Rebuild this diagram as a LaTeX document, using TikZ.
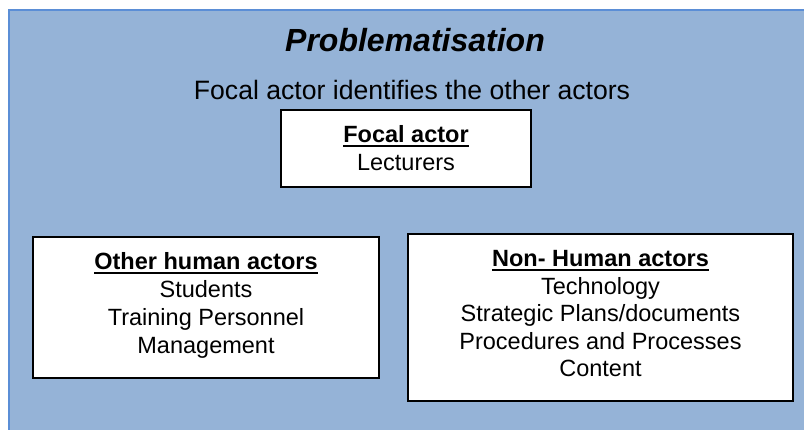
\documentclass[tikz,border=0pt]{standalone}
\usepackage{fontspec}
\setmainfont{Liberation Sans}
% bold heading with a heavy underline
\newcommand{\ulhead}[1]{\leavevmode\setbox0\hbox{\bfseries #1}\rlap{\rule[-4.5pt]{\wd0}{2pt}}\box0}
% invisible struts that fix the first baseline and the last depth
\newcommand{\topstrut}{\rule{0pt}{20pt}}
\newcommand{\botstrut}[1]{\rule[-#1]{0pt}{#1}}
\definecolor{panelfill}{HTML}{95B3D7}
\definecolor{paneledge}{HTML}{5B8ED6}
\tikzset{
  actorbox/.style={draw=black, line width=1.6pt, fill=white, align=center,
    inner sep=0pt, font=\fontsize{23.5}{27.5}\selectfont},
}
\begin{document}
\begin{tikzpicture}[x=1pt, y=-1pt]
  \useasboundingbox (0,0) rectangle (804,430);
  \begin{scope}
    \clip (0,0) rectangle (804,430);
    \draw[fill=panelfill, draw=paneledge, line width=2.5pt] (9,10) rectangle (830,460);
  \end{scope}
  \node[anchor=base, font=\fontsize{32}{38}\selectfont\bfseries\itshape] (title) at (415,52) {Problematisation};
  \node[anchor=base, font=\fontsize{26.6}{30}\selectfont] (sub) at (412,100) {Focal actor identifies the other actors};
  \node[actorbox, minimum width=250pt, minimum height=77pt] (focal) at (406,148.5)
    {\topstrut\ulhead{Focal actor}\\Lecturers\botstrut{3.5pt}};
  \node[actorbox, minimum width=346pt, minimum height=141pt,
    font=\fontsize{23.5}{27.8}\selectfont] (human) at (206,307.5)
    {\topstrut\ulhead{Other human actors}\\Students\\Training Personnel\\Management\botstrut{12pt}};
  \node[actorbox, minimum width=385pt, minimum height=167pt] (nonhuman) at (600.5,317.5)
    {\topstrut\ulhead{Non- Human actors}\\Technology\hspace*{24pt}\\Strategic Plans/documents\\Procedures and Processes\\Content\botstrut{11pt}};
\end{tikzpicture}
\end{document}
